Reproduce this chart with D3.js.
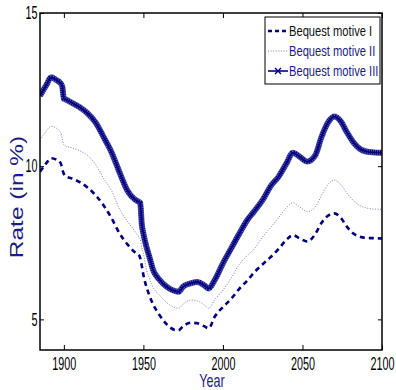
<!DOCTYPE html>
<html>
<head>
<meta charset="utf-8">
<script src="https://cdn.jsdelivr.net/npm/d3@7"></script>
<style>
  html, body { margin: 0; padding: 0; background: #fff; }
  svg { display: block; }
  text { font-family: "Liberation Sans", Arial, Helvetica, sans-serif; }
</style>
</head>
<body>
<svg id="chart" width="396" height="390"></svg>
<script>
// Interest rate paths (in %) under three bequest motives, 1885-2100
const years = [1885, 1889, 1892, 1895, 1898, 1899, 1900, 1901, 1905, 1910, 1915, 1920, 1925, 1930,
  1935, 1940, 1945, 1947, 1948, 1949, 1950, 1952, 1954, 1956, 1960, 1965, 1970, 1972, 1975, 1980,
  1984, 1988, 1991, 1995, 2000, 2005, 2010, 2015, 2020, 2025, 2030, 2035, 2040, 2044, 2048, 2053,
  2058, 2062, 2066, 2070, 2074, 2078, 2082, 2086, 2090, 2095, 2100];

const motiveI = [9.82, 10.1, 10.26, 10.22, 10.1, 9.9, 9.75, 9.68, 9.6, 9.48, 9.3, 9.05, 8.72, 8.3,
  7.81, 7.45, 7.18, 7.12, 7.0, 6.75, 6.45, 6.05, 5.75, 5.5, 5.15, 4.82, 4.65, 4.64, 4.78, 4.89,
  4.87, 4.78, 4.71, 5.1, 5.4, 5.66, 5.98, 6.25, 6.55, 6.8, 7.03, 7.3, 7.6, 7.75, 7.65, 7.54,
  7.78, 8.15, 8.38, 8.46, 8.32, 8.02, 7.8, 7.7, 7.66, 7.65, 7.64];

const motiveII = [10.86, 11.15, 11.3, 11.25, 11.1, 10.9, 10.7, 10.66, 10.6, 10.5, 10.35, 10.05, 9.6, 9.2,
  8.6, 8.2, 7.85, 7.7, 7.62, 7.35, 7.15, 6.62, 6.3, 6.05, 5.8, 5.53, 5.38, 5.36, 5.5, 5.63,
  5.6, 5.48, 5.36, 5.65, 5.95, 6.33, 6.77, 7.07, 7.32, 7.7, 8.0, 8.32, 8.65, 8.81, 8.68, 8.52,
  8.66, 9.05, 9.4, 9.55, 9.4, 9.12, 8.88, 8.72, 8.64, 8.6, 8.59];

const motiveIII = [12.3, 12.65, 12.9, 12.82, 12.7, 12.6, 12.2, 12.18, 12.07, 11.92, 11.72, 11.42, 10.95, 10.45,
  9.8, 9.2, 8.9, 8.84, 8.8, 8.1, 7.8, 7.35, 7.0, 6.63, 6.3, 6.05, 5.92, 5.9, 6.07, 6.18,
  6.22, 6.12, 6.01, 6.3, 6.83, 7.3, 7.77, 8.22, 8.55, 8.9, 9.35, 9.66, 10.1, 10.44, 10.32, 10.15,
  10.35, 10.96, 11.42, 11.62, 11.47, 11.1, 10.78, 10.57, 10.48, 10.45, 10.44];

const seriesNames = ["Bequest motive I", "Bequest motive II", "Bequest motive III"];
const xTicks = [1900, 1950, 2000, 2050, 2100];
const yTicks = [5, 10, 15];
const xLabel = "Year";
const yLabel = "Rate (in %)";

const navy = "#000080";
const labelBlue = "#1c1c84";

const svg = d3.select("#chart");
const L = 40, R = 382, T = 13, B = 350;

const x = d3.scaleLinear().domain([1885, 2100]).range([L, R]);
const y = d3.scaleLinear().domain([4, 15]).range([B, T]);

const line = vals => d3.line()
  .x((d, i) => x(years[i]))
  .y(d => y(d))
  .curve(d3.curveMonotoneX)(vals);

const plot = svg.append("g");
plot.append("defs").append("clipPath").attr("id", "clip")
  .append("rect").attr("x", L).attr("y", T).attr("width", R - L).attr("height", B - T);
const lines = plot.append("g").attr("clip-path", "url(#clip)");

// Motive I: thick dashed
lines.append("path").attr("d", line(motiveI))
  .attr("fill", "none").attr("stroke", navy)
  .attr("stroke-width", 2.6).attr("stroke-dasharray", "5,4");

// Motive II: thin dotted
lines.append("path").attr("d", line(motiveII))
  .attr("fill", "none").attr("stroke", "#5a5aae")
  .attr("stroke-width", 1).attr("stroke-dasharray", "1,1.6").attr("opacity", 0.8);

// Motive III: solid line with dense x markers (drawn as a hatched band around a core line)
lines.append("path").attr("d", line(motiveIII))
  .attr("fill", "none").attr("stroke", "#23238c")
  .attr("stroke-width", 6).attr("opacity", 0.75);
lines.append("path").attr("d", line(motiveIII))
  .attr("fill", "none").attr("stroke", navy)
  .attr("stroke-width", 5).attr("stroke-dasharray", "1,1");
lines.append("path").attr("d", line(motiveIII))
  .attr("fill", "none").attr("stroke", navy).attr("stroke-width", 1.8);

// Axes with inward ticks
const styleText = sel => sel.selectAll("text")
  .attr("fill", "#000").style("font-size", "18px");

const gx = svg.append("g").attr("transform", `translate(0,${B})`)
  .call(d3.axisBottom(x).tickValues(xTicks).tickFormat(d3.format("d"))
    .tickSizeInner(-5).tickSizeOuter(0).tickPadding(7));
gx.select(".domain").remove();
gx.selectAll("line").attr("stroke", "#000").attr("stroke-width", 1);
styleText(gx);
gx.selectAll("text").attr("transform", "scale(0.6,1)");

const gxt = svg.append("g").attr("transform", `translate(0,${T})`)
  .call(d3.axisTop(x).tickValues(xTicks).tickFormat("").tickSizeInner(-5).tickSizeOuter(0));
gxt.select(".domain").remove();
gxt.selectAll("line").attr("stroke", "#000");

const gy = svg.append("g").attr("transform", `translate(${L},0)`)
  .call(d3.axisLeft(y).tickValues(yTicks).tickFormat(d3.format("d"))
    .tickSizeInner(-4).tickSizeOuter(0).tickPadding(4));
gy.select(".domain").remove();
gy.selectAll("line").attr("stroke", "#000");
styleText(gy);
gy.selectAll("text").attr("transform", "scale(0.6,1)");

const gyr = svg.append("g").attr("transform", `translate(${R},0)`)
  .call(d3.axisRight(y).tickValues(yTicks).tickFormat("").tickSizeInner(-4).tickSizeOuter(0));
gyr.select(".domain").remove();
gyr.selectAll("line").attr("stroke", "#000");

// Frame
svg.append("rect").attr("x", L).attr("y", T).attr("width", R - L).attr("height", B - T)
  .attr("fill", "none").attr("stroke", "#000").attr("stroke-width", 1.5);

// Axis titles
svg.append("text").attr("transform", "translate(212,387) scale(0.68,1)")
  .attr("text-anchor", "middle").attr("fill", labelBlue).style("font-size", "18.5px")
  .text(xLabel);
svg.append("text").attr("transform", "translate(23,197) rotate(-90) scale(1.4,1)")
  .attr("text-anchor", "middle").attr("fill", labelBlue).style("font-size", "17.5px")
  .text(yLabel);

// Legend
const lg = svg.append("g");
lg.append("rect").attr("x", 265).attr("y", 17).attr("width", 115).attr("height", 67)
  .attr("fill", "#fff").attr("stroke", "#000").attr("stroke-width", 1);
const rowY = [31, 51, 71];
const textCol = ["#111", labelBlue, labelBlue];
seriesNames.forEach((name, i) => {
  const yy = rowY[i];
  const ln = lg.append("line").attr("x1", 268).attr("x2", 288).attr("y1", yy).attr("y2", yy)
    .attr("stroke", navy);
  if (i === 0) ln.attr("stroke-width", 2.6).attr("stroke-dasharray", "4,3");
  if (i === 1) ln.attr("stroke", "#5a5aae").attr("stroke-width", 1).attr("stroke-dasharray", "1,1.6").attr("opacity", 0.8);
  if (i === 2) {
    ln.attr("stroke-width", 1.6);
    lg.append("path").attr("d", `M275,${yy - 3}L281,${yy + 3}M275,${yy + 3}L281,${yy - 3}`)
      .attr("stroke", navy).attr("stroke-width", 1.4);
  }
  lg.append("text").attr("transform", `translate(289,${yy + 5}) scale(0.77,1)`)
    .attr("fill", textCol[i]).style("font-size", "14.5px").text(name);
});
</script>
</body>
</html>
